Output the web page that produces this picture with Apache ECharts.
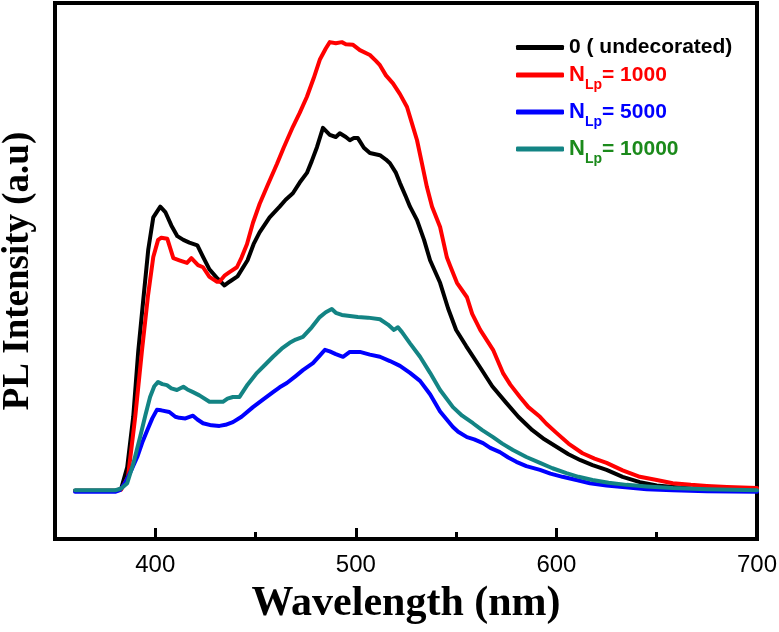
<!DOCTYPE html>
<html>
<head>
<meta charset="utf-8">
<script src="https://cdn.jsdelivr.net/npm/echarts@6/dist/echarts.min.js"></script>
<style>
    html, body { margin: 0; padding: 0; background: #fff; }
    #plChart { width: 779px; height: 632px; }
</style>
</head>
<body>
<div id="plChart"></div>
<script>
// [wavelength (nm), PL intensity (a.u.)]
const undecorated = [[360, 9], [370, 9], [380, 9], [383, 9.4], [386, 13.4], [389, 22.8], [391.5, 35], [394, 44.6], [396.5, 54], [399, 60], [402.5, 62], [405, 61], [408, 58.5], [411, 56.5], [414, 55.8], [417, 55.3], [421, 54.8], [424, 52.5], [427, 50.3], [431, 48.6], [434.5, 47.3], [437, 48], [441, 49], [446, 52], [449, 55], [452, 57.2], [457, 60], [462, 62], [465, 63.3], [468.6, 64.5], [472, 66.5], [475.6, 68.3], [478, 70.5], [480.6, 73.1], [483.6, 76.7], [487, 75.4], [490, 75], [492, 75.7], [495, 75], [497, 74.4], [499, 74.8], [501, 74.8], [504, 73], [507, 72], [512, 71.6], [515, 70.8], [517, 70.1], [520, 68.3], [522, 66.4], [525, 63.8], [527, 62], [530.5, 59.5], [534, 55.8], [537, 52], [542, 47.8], [546, 43], [550, 39], [555, 36], [562, 32], [568, 28.5], [575, 25.4], [581, 22.8], [588, 20.3], [594, 18.6], [600, 17.2], [606, 15.8], [612, 14.7], [618, 13.8], [625, 12.9], [633, 11.6], [641.6, 10.6], [650, 10], [658, 9.7], [667, 9.4], [675, 9.3], [685, 9.2], [700, 9.1]]

const nLp1000 = [[360, 9], [370, 9], [380, 9], [383, 9.2], [386.4, 11.6], [390, 22.8], [393.4, 35.3], [396.4, 45.5], [399, 52.6], [401.4, 55.8], [403, 56.2], [406, 56], [409, 52.4], [412, 52], [415.8, 51.5], [418, 52.4], [421.3, 51.1], [423.8, 50.7], [427, 48.9], [430.8, 48], [432, 48], [434.7, 49.2], [437, 49.8], [440.7, 50.7], [443, 52.5], [445.7, 55], [448.7, 59], [452, 62.5], [456, 66], [460.7, 70], [464, 73], [468.6, 76.9], [472, 79.5], [475.6, 82.5], [479, 86], [482, 89.4], [485, 91.5], [487, 92.7], [490, 92.5], [493, 92.7], [495, 92.3], [498.6, 92.2], [502, 91.2], [507, 90.3], [510, 89.2], [512, 88.4], [515, 86.5], [518.5, 85], [522, 83], [525.5, 80.6], [528, 77.5], [530.5, 74.4], [533, 70], [535.4, 65.7], [538, 62], [542, 58.2], [545.4, 52.5], [547, 51], [550.4, 47.8], [555.4, 45.1], [558, 42], [562, 39], [568.4, 35.3], [573.3, 31], [577, 28.8], [581.8, 26.5], [586, 24.6], [591.8, 22.8], [595, 21.5], [600, 19.8], [606, 17.8], [613, 16], [619, 15], [625, 14.2], [633, 12.8], [641.6, 11.6], [650, 11], [658, 10.4], [667, 10.1], [675, 9.9], [685, 9.7], [700, 9.5]]

const nLp5000 = [[360, 8.8], [370, 8.8], [380, 8.8], [382.4, 9.1], [385, 10.5], [388, 12.8], [391, 15.3], [393.5, 18], [396, 20.3], [398.5, 22.5], [400.8, 24.1], [403, 24], [407, 23.7], [410, 22.8], [412, 22.6], [415, 22.5], [418.8, 23], [421, 22.3], [423.8, 21.6], [428, 21.2], [432, 21.1], [435, 21.3], [438.7, 21.8], [443, 22.8], [448.7, 24.6], [453, 25.8], [458.7, 27.4], [462, 28.3], [465.6, 29.1], [470, 30.4], [473.6, 31.5], [478.6, 32.8], [482, 34.2], [484.6, 35.3], [487, 35], [490, 34.5], [493.6, 34], [497, 34.9], [502, 34.9], [507, 34.4], [512, 34], [517, 33.2], [522, 32.3], [527, 31], [532, 29.5], [537, 27], [542, 23.8], [548.4, 20.9], [551, 20], [555.4, 19], [559, 18.6], [563.4, 17.9], [567, 17], [571.8, 16.2], [576, 15.2], [580, 14.4], [585, 13.6], [591.8, 12.9], [597, 12.2], [603, 11.6], [610, 11], [616.7, 10.4], [625, 10], [633, 9.7], [645, 9.3], [658, 9.1], [675, 8.9], [700, 8.8]]

const nLp10000 = [[360, 9.1], [370, 9.1], [380, 9.1], [383, 9.4], [386, 10.4], [389, 14], [392.4, 19], [395, 23], [397.4, 26.5], [399.5, 28.5], [401.4, 29.3], [403.5, 28.9], [405.8, 28.7], [408, 28.1], [410.8, 27.8], [414, 28.4], [416, 27.9], [418.8, 27.4], [422, 26.8], [427, 25.6], [430, 25.6], [433.7, 25.6], [436, 26.2], [438.7, 26.5], [442, 26.5], [446, 28.8], [450.7, 31], [455, 32.6], [458.7, 34], [463, 35.5], [467, 36.6], [470, 37.2], [473.6, 37.7], [478, 39.5], [482, 41.4], [485, 42.3], [488, 42.9], [490, 42.2], [493, 41.8], [497, 41.6], [501, 41.4], [506, 41.3], [512, 41], [516, 40], [519, 39], [521, 39.5], [523, 38.6], [527, 36.5], [532, 34], [537, 31], [542, 27.8], [548.4, 24.6], [553, 23], [558.4, 21.6], [563, 20.3], [568.4, 19], [573, 17.8], [578.3, 16.6], [585, 15.3], [591.8, 14.2], [598, 13.2], [605, 12.3], [611, 11.6], [618, 11], [626, 10.5], [635, 10.1], [645, 9.8], [658, 9.5], [675, 9.3], [700, 9.1]]

const majorTicks = [400, 500, 600, 700]
const minorTicks = [450, 550, 650]

const seriesNames = ['0 ( undecorated)', 'NLp= 1000', 'NLp= 5000', 'NLp= 10000']
const seriesData = [undecorated, nLp1000, nLp5000, nLp10000]
const lineColors = ['#000000', '#ff0000', '#0000ff', '#138484']
const textColors = ['#000000', '#ff0000', '#0000ff', '#1b8a1b']
const legendTops = [37, 64, 101, 138]

function legendLabel(name) {
    if (name.indexOf('NLp') === 0) {
        return '{n|N}{s|Lp}{t|' + name.slice(3) + '}'
    }
    return name
}

function setPLChart() {
    const plChart = echarts.init(document.getElementById('plChart'))

    const legends = seriesNames.map(function (name, i) {
        return {
            left: 516,
            top: legendTops[i],
            padding: 0,
            data: [name],
            icon: 'roundRect',
            itemWidth: 48,
            itemHeight: 5,
            selectedMode: false,
            formatter: legendLabel,
            textStyle: {
                color: textColors[i],
                fontFamily: 'Liberation Sans',
                fontWeight: 'bold',
                fontSize: 21,
                rich: {
                    n: { fontSize: 22 },
                    s: { fontSize: 14, verticalAlign: 'bottom', padding: [20, 0, 0, 0] },
                    t: { fontSize: 21 }
                }
            }
        }
    })

    const option = {
        animation: false,
        backgroundColor: '#fff',
        legend: legends,
        grid: {
            left: 55,
            right: 22,
            top: 3,
            bottom: 93,
            outerBoundsMode: 'none',
            containLabel: false,
            show: true,
            borderColor: '#000',
            borderWidth: 4
        },
        xAxis: [{
            type: 'value',
            min: 350,
            max: 700,
            position: 'bottom',
            name: 'Wavelength (nm)',
            nameLocation: 'middle',
            nameGap: 44,
            nameTextStyle: {
                color: '#000',
                fontFamily: 'Liberation Serif',
                fontWeight: 'bold',
                fontSize: 42
            },
            axisLine: { show: true, lineStyle: { color: '#000', width: 4 } },
            axisTick: {
                show: true,
                inside: true,
                length: 11,
                customValues: majorTicks,
                lineStyle: { color: '#000', width: 3 }
            },
            axisLabel: {
                customValues: majorTicks,
                margin: 14,
                color: '#000',
                fontSize: 24,
                fontFamily: 'Liberation Sans Narrow, Liberation Sans, sans-serif'
            },
            splitLine: { show: false }
        }, {
            type: 'value',
            min: 350,
            max: 700,
            position: 'bottom',
            axisLine: { show: false },
            axisTick: {
                show: true,
                inside: true,
                length: 7,
                customValues: minorTicks,
                lineStyle: { color: '#000', width: 3 }
            },
            axisLabel: { show: false },
            splitLine: { show: false }
        }],
        yAxis: {
            type: 'value',
            min: 0,
            max: 100,
            name: 'PL Intensity (a.u)',
            nameLocation: 'middle',
            nameGap: 18,
            nameTextStyle: {
                color: '#000',
                fontFamily: 'Liberation Serif',
                fontWeight: 'bold',
                fontSize: 37
            },
            axisLine: { show: true, lineStyle: { color: '#000', width: 4 } },
            axisTick: { show: false },
            axisLabel: { show: false },
            splitLine: { show: false }
        },
        series: seriesNames.map(function (name, i) {
            return {
                name: name,
                type: 'line',
                data: seriesData[i],
                showSymbol: false,
                symbol: 'none',
                lineStyle: { color: lineColors[i], width: 4, cap: 'round', join: 'round' },
                itemStyle: { color: lineColors[i] }
            }
        })
    }
    plChart.setOption(option)
}

setPLChart()
</script>
</body>
</html>
